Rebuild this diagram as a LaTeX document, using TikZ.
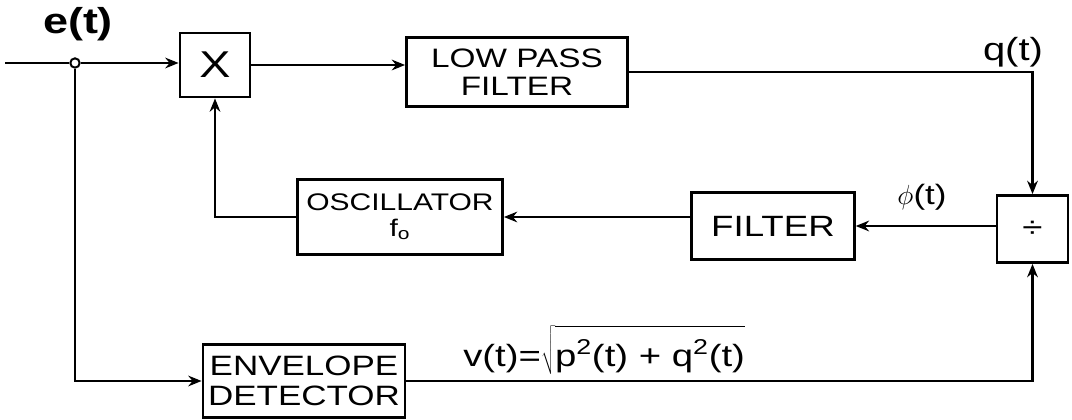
\documentclass[tikz,border=0pt]{standalone}
\usepackage{fontspec}
\setmainfont{Liberation Sans}[FakeStretch=1.25]
\usetikzlibrary{arrows.meta}
\begin{document}
\begin{tikzpicture}[x=0.75pt,y=-0.75pt,
  blk/.style={draw,line width=2.1pt,inner sep=0pt,align=center},
  wire/.style={line width=2.1pt},
  arr/.style={wire,-{Stealth[length=10pt,width=8pt]}},
  lbl/.style={inner sep=0pt}]
\useasboundingbox (0,0) rectangle (1072,420);
% blocks
\node[blk,minimum width=52.5pt,minimum height=48pt,font=\fontsize{28}{30}\selectfont] (mx) at (215,65) {X};
\node[blk,minimum width=165.75pt,minimum height=51.75pt,font=\fontsize{20}{21}\selectfont] (lpf) at (517,72) {LOW PASS\\FILTER};
\node[blk,minimum width=153.75pt,minimum height=56.25pt,font=\fontsize{18}{19}\selectfont] (osc) at (400,217) {OSCILLATOR\\f\textsubscript{o}};
\node[blk,minimum width=122pt,minimum height=50pt,font=\fontsize{22}{24}\selectfont] (flt) at (773,226) {FILTER};
\node[blk,minimum width=53.25pt,minimum height=50.25pt,font=\fontsize{22}{24}\selectfont] (dv) at (1032.5,229) {÷};
\node[blk,minimum width=151.5pt,minimum height=54.75pt,font=\fontsize{21}{22}\selectfont] (env) at (304,381) {ENVELOPE\\DETECTOR};
% junction and input
\coordinate (in) at (5,63);
\node[draw,circle,line width=1.5pt,fill=white,minimum size=7pt,inner sep=0pt] (jn) at (75,63) {};
\draw[wire] (in) -- (jn.west);
\draw[arr] (jn.east) -- (mx.west |- jn);
\draw[arr] (mx.east) -- (mx.east -| lpf.west);
\draw[arr] (lpf.east) -- (lpf.east -| dv.north) -- (dv.north);
\draw[arr] (dv.west |- flt.east) -- (flt.east);
\draw[arr] (flt.west |- osc.east) -- (osc.east);
\draw[arr] (osc.west) -| (mx.south);
\draw[arr] (jn.south) |- (env.west);
\draw[arr] (env.east) -| (dv.south);
% labels
\node[lbl,font=\fontsize{27}{29}\selectfont\bfseries] (le) at (78,24) {e(t)};
\node[lbl,font=\fontsize{24}{26}\selectfont] (lq) at (1013,52) {q(t)};
\node[lbl,font=\fontsize{21}{23}\selectfont] (lphi) at (922,197) {$\phi$(t)};
\node[lbl,font=\fontsize{23}{25}\selectfont,anchor=west] (lv) at (463,350) {v(t)=$\sqrt{\rule{0pt}{28pt}\mbox{p\textsuperscript{2}(t) + q\textsuperscript{2}(t)}}$};
\end{tikzpicture}
\end{document}
